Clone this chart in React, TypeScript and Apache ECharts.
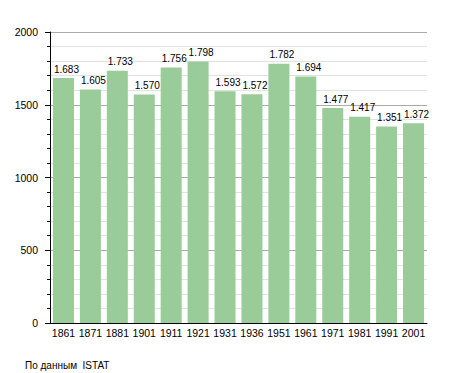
import React, { useEffect, useRef } from "react";
import * as echarts from "echarts";

const years = ["1861", "1871", "1881", "1901", "1911", "1921", "1931", "1936", "1951", "1961", "1971", "1981", "1991", "2001"];
const population = [1683, 1605, 1733, 1570, 1756, 1798, 1593, 1572, 1782, 1694, 1477, 1417, 1351, 1372];
const sourceText = "По данным  ISTAT";

const FONT = "Liberation Sans, Arial, sans-serif";

export default function App() {
  const ref = useRef<HTMLDivElement>(null);
  useEffect(() => {
    if (!ref.current) return;
    const chart = echarts.init(ref.current, undefined, { renderer: "svg" });
    chart.setOption({
      animation: false,
      textStyle: { fontFamily: FONT },
      grid: { left: 50, top: 32, right: 28, bottom: 50, containLabel: false },
      title: {
        text: sourceText,
        left: 20,
        top: 355,
        textStyle: { fontSize: 10, fontWeight: "normal", color: "#000", fontFamily: FONT },
      },
      xAxis: {
        type: "category",
        data: years,
        axisLine: { lineStyle: { color: "#000", width: 1 } },
        axisTick: { show: false },
        axisLabel: { color: "#000", fontSize: 10.5, margin: 4, interval: 0, fontFamily: FONT },
      },
      yAxis: {
        type: "value",
        min: 0,
        max: 2000,
        interval: 500,
        axisLine: { show: true, lineStyle: { color: "#000", width: 1 } },
        axisTick: { show: true, length: 5, lineStyle: { color: "#000" } },
        minorTick: { show: true, splitNumber: 5, length: 3, lineStyle: { color: "#000" } },
        splitLine: { show: true, lineStyle: { color: "#aaa", width: 1 } },
        minorSplitLine: { show: true, lineStyle: { color: "#e2e2e2", width: 1 } },
        axisLabel: { color: "#000", fontSize: 10.5, margin: 12, fontFamily: FONT, formatter: (v: number) => String(v) },
      },
      series: [
        {
          type: "bar",
          data: population,
          barCategoryGap: "22%",
          itemStyle: { color: "#99cc99" },
          label: {
            show: true,
            position: "top",
            distance: 4,
            offset: [3, 0],
            color: "#000",
            fontSize: 10,
            fontFamily: FONT,
            formatter: (p: any) => {
              const v = String(p.value);
              return v.length > 3 ? v.slice(0, v.length - 3) + "." + v.slice(v.length - 3) : v;
            },
          },
        },
      ],
    });
    return () => chart.dispose();
  }, []);
  return <div ref={ref} style={{ width: 455, height: 373, position: "absolute", left: 0, top: 0, background: "#fff" }} />;
}
